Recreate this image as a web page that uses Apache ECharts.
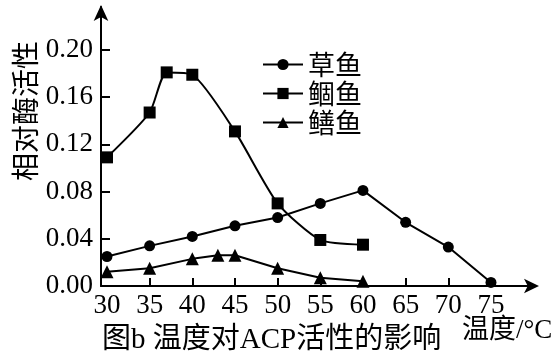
<!DOCTYPE html>
<html>
<head>
<meta charset="utf-8">
<script src="https://cdn.jsdelivr.net/npm/echarts@6/dist/echarts.min.js"></script>
<style>
  html, body { margin: 0; padding: 0; background: #fff; }
  #chart { width: 558px; height: 356px; }
</style>
</head>
<body>
<div id="chart"></div>
<script>
// Relative ACP activity of three fish species versus temperature (°C)
const seriesNames = ['草鱼', '鲴鱼', '鳝鱼'];

const tempCaoyu = [30, 35, 40, 45, 50, 55, 60, 65, 70, 75];
const actCaoyu  = [0.025, 0.034, 0.042, 0.051, 0.058, 0.070, 0.081, 0.054, 0.033, 0.003];

const tempGuyu = [30, 35, 37, 40, 45, 50, 55, 60];
const actGuyu  = [0.109, 0.147, 0.181, 0.179, 0.131, 0.070, 0.039, 0.035];

const tempShanyu = [30, 35, 40, 43, 45, 50, 55, 60];
const actShanyu  = [0.012, 0.015, 0.023, 0.026, 0.026, 0.015, 0.007, 0.004];

const xTicks = [30, 35, 40, 45, 50, 55, 60, 65, 70, 75];
const yTicks = [0, 0.04, 0.08, 0.12, 0.16, 0.20];

const yTitle = '相对酶活性';
const xTitle = '温度/°C';
const caption = '图b 温度对ACP活性的影响';

const SERIF = "'Liberation Serif', 'Noto Sans CJK SC', serif";
const CJK = "'Noto Sans CJK SC', sans-serif";

function pairs(xs, ys) { return xs.map((x, i) => [x, ys[i]]); }

const chart = echarts.init(document.getElementById('chart'), null, { renderer: 'canvas' });

const lineCommon = {
  type: 'line',
  showSymbol: true,
  lineStyle: { color: '#000', width: 2 },
  itemStyle: { color: '#000' },
  emphasis: { disabled: true },
  animation: false
};

chart.setOption({
  backgroundColor: '#fff',
  animation: false,
  grid: { left: 101, right: 23, top: 7, bottom: 70, outerBoundsMode: 'none' },
  legend: {
    orient: 'vertical',
    left: 257,
    top: 46,
    itemWidth: 40,
    itemHeight: 14,
    itemGap: 2,
    data: seriesNames,
    textStyle: { color: '#000', fontSize: 27, fontFamily: CJK, lineHeight: 27 }
  },
  xAxis: {
    type: 'value',
    min: 29.3,
    max: 80.16,
    interval: 5,
    splitLine: { show: false },
    axisLine: {
      onZero: false,
      lineStyle: { color: '#000', width: 2 },
      symbol: ['none', 'arrow'],
      symbolSize: [11, 15],
      symbolOffset: [0, 4]
    },
    axisTick: {
      inside: true,
      length: 8,
      lineStyle: { color: '#000', width: 2 },
      customValues: xTicks.slice(1)
    },
    axisLabel: {
      color: '#000',
      fontSize: 27,
      fontFamily: SERIF,
      margin: 6,
      customValues: xTicks
    }
  },
  yAxis: {
    type: 'value',
    min: 0,
    max: 0.2364,
    splitLine: { show: false },
    axisLine: {
      onZero: false,
      lineStyle: { color: '#000', width: 2 },
      symbol: ['none', 'arrow'],
      symbolSize: [11, 16],
      symbolOffset: [0, 2]
    },
    axisTick: {
      inside: true,
      length: 9,
      lineStyle: { color: '#000', width: 2 },
      customValues: yTicks.slice(1)
    },
    axisLabel: {
      color: '#000',
      fontSize: 27,
      fontFamily: SERIF,
      margin: 8,
      customValues: yTicks,
      formatter: v => v.toFixed(2)
    }
  },
  series: [
    Object.assign({}, lineCommon, {
      name: seriesNames[0],
      symbol: 'circle',
      symbolSize: 11,
      data: pairs(tempCaoyu, actCaoyu),
      z: 3
    }),
    Object.assign({}, lineCommon, {
      name: seriesNames[1],
      symbol: 'rect',
      symbolSize: 12,
      smooth: 0.22,
      data: pairs(tempGuyu, actGuyu),
      z: 2
    }),
    Object.assign({}, lineCommon, {
      name: seriesNames[2],
      symbol: 'triangle',
      symbolSize: 13,
      data: pairs(tempShanyu, actShanyu),
      z: 2
    })
  ],
  graphic: [
    {
      type: 'text',
      x: 25, y: 111,
      rotation: Math.PI / 2,
      style: { text: yTitle, fill: '#000', font: '28px ' + CJK, align: 'center', verticalAlign: 'middle' }
    },
    {
      type: 'text',
      x: 462, y: 331,
      style: { text: xTitle, fill: '#000', font: '27px ' + SERIF, align: 'left', verticalAlign: 'middle' }
    },
    {
      type: 'text',
      x: 102, y: 340,
      style: { text: caption, fill: '#000', font: '29px ' + SERIF, align: 'left', verticalAlign: 'middle' }
    }
  ]
});
</script>
</body>
</html>
